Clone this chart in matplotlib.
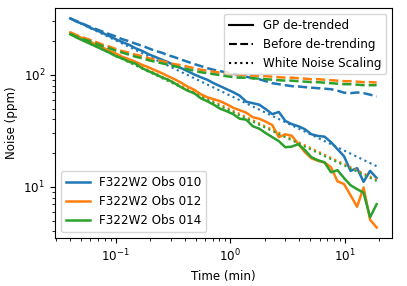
import matplotlib
matplotlib.use("Agg")
import matplotlib.pyplot as plt
from matplotlib.lines import Line2D

plt.rcParams['font.size'] = 8.6

time_min = [0.04, 0.0456, 0.0520, 0.0593, 0.0675, 0.0770, 0.0878, 0.1001, 0.1141, 0.1300,
            0.1483, 0.1690, 0.1927, 0.2197, 0.2504, 0.2855, 0.3254, 0.3710, 0.4229, 0.4821,
            0.5497, 0.6266, 0.7143, 0.8143, 0.9283, 1.058, 1.206, 1.375, 1.568, 1.787,
            2.037, 2.323, 2.648, 3.018, 3.441, 3.923, 4.472, 5.098, 5.812, 6.625,
            7.553, 8.610, 9.815, 11.19, 12.76, 14.54, 16.58, 18.90]

labels = ["F322W2 Obs 010", "F322W2 Obs 012", "F322W2 Obs 014"]
colors = ["#1f77b4", "#ff7f0e", "#2ca02c"]

gp_010 = [319, 298, 284, 264, 251, 236, 222, 208, 196, 186,
          173, 164, 153, 145, 137, 130, 121, 115, 108, 101,
          95.4, 90.6, 84.3, 79.3, 74.5, 70.1, 65.2, 57.6, 55.9, 54.2,
          49.4, 44.6, 46.7, 38.8, 36.3, 34.8, 32.7, 29.5, 28.5, 28.1,
          25.1, 21.7, 18.8, 13.9, 14.7, 11.1, 13.9, 12.0]
gp_012 = [239, 224, 210, 198, 186, 175, 164, 155, 145, 138,
          131, 123, 117, 110, 104, 97.4, 91.5, 85.2, 78.5, 73.8,
          67.3, 63.2, 60.7, 58.2, 54.7, 50.9, 48.4, 46.0, 41.9, 40.6,
          38.2, 35.6, 27.8, 29.5, 28.6, 24.1, 20.4, 18.0, 17.1, 16.5,
          15.0, 11.2, 10.6, 8.43, 6.65, 9.88, 5.09, 4.34]
gp_014 = [231, 215, 202, 190, 179, 168, 158, 147, 140, 131,
          126, 115, 108, 102, 95.4, 90.6, 84.3, 77.7, 72.3, 68.7,
          61.9, 58.2, 54.2, 49.9, 47.4, 44.6, 40.6, 39.8, 34.8, 33.1,
          30.2, 27.8, 25.6, 22.6, 22.9, 24.1, 21.3, 18.4, 17.3, 16.6,
          13.5, 14.1, 12.0, 10.35, 9.54, 8.87, 5.36, 7.01]

raw_010 = [319, 302, 284, 269, 256, 243, 231, 220, 208, 200,
           190, 182, 173, 164, 158, 150, 144, 137, 131, 125,
           120, 115, 111, 108, 105, 102.5, 99.4, 96.4, 93.4, 91.5,
           87.8, 84.3, 82.6, 80.9, 79.3, 78.8, 77.7, 76.9, 76.1, 75.3,
           74.5, 72.3, 69.4, 68.7, 69.7, 68.7, 66.6, 64.1]
raw_012 = [239, 226, 215, 206, 196, 186, 179, 170, 163, 158,
           151.5, 147, 141, 137, 133, 128.5, 124.6, 122, 118.4, 114.8,
           111.3, 109, 106.8, 104.6, 102.5, 100.4, 99.4, 99.4, 98.4, 98.4,
           97.4, 96.4, 95.4, 94.4, 94.4, 93.4, 92.5, 91.5, 91.5, 90.6,
           89.7, 88.8, 87.8, 87.8, 87.0, 86.1, 86.1, 85.5]
raw_014 = [231, 219, 208, 200, 190, 180, 173, 164.5, 158, 151.5,
           145.4, 141, 135.3, 131.2, 127.2, 123.3, 119.6, 116, 112.4, 109,
           105.7, 103.6, 101.5, 99.4, 97.4, 95.4, 94.4, 94.4, 93.4, 92.5,
           91.5, 90.6, 89.7, 88.8, 88.8, 87.8, 87.0, 86.1, 86.1, 85.2,
           84.3, 83.4, 82.6, 82.6, 81.8, 80.9, 80.9, 80.9]

white_t = [0.04, 18.90]
white_010 = [319, 15.3]
white_012 = [239, 11.6]
white_014 = [231, 11.3]

gp = [gp_010, gp_012, gp_014]
raw = [raw_010, raw_012, raw_014]
white = [white_010, white_012, white_014]

fig = plt.figure(figsize=(4.07, 2.86), dpi=100)
ax = fig.add_axes([0.135, 0.168, 0.828, 0.804])

lw = 1.8
handles = []
for g, r, w, c, lab in zip(gp, raw, white, colors, labels):
    h, = ax.plot(time_min, g, color=c, lw=lw, ls='-', label=lab)
    ax.plot(time_min, r, color=c, lw=lw, ls='--')
    ax.plot(white_t, w, color=c, lw=lw * 0.85, ls=':')
    handles.append(h)

ax.set_xscale('log')
ax.set_yscale('log')
ax.set_xlabel('Time (min)')
ax.set_ylabel('Noise (ppm)')

style_handles = [Line2D([0], [0], color='k', lw=lw * 0.85, ls='-'),
                 Line2D([0], [0], color='k', lw=lw * 0.85, ls='--'),
                 Line2D([0], [0], color='k', lw=lw * 0.85, ls=':')]
leg1 = ax.legend(style_handles, ['GP de-trended', 'Before de-trending', 'White Noise Scaling'],
                 loc='upper right')
ax.add_artist(leg1)
ax.legend(handles=handles, loc='lower left')

fig.savefig('out.png', dpi=100)
